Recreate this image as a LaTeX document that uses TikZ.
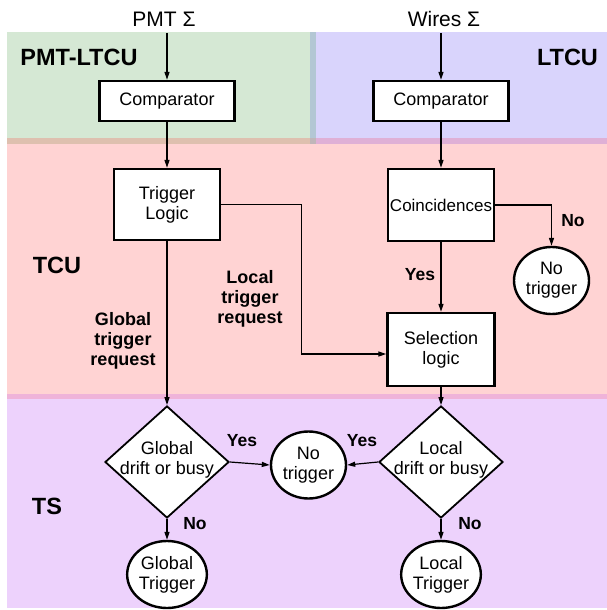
\documentclass[tikz,border=0pt]{standalone}
\usepackage{fontspec}
\setmainfont{Liberation Sans}
\usetikzlibrary{shapes.geometric,arrows.meta}
\definecolor{cgreen}{RGB}{213,232,212}
\definecolor{cblue}{RGB}{217,212,252}
\definecolor{cpink}{RGB}{255,211,211}
\definecolor{cpurple}{RGB}{237,210,252}
\definecolor{cdiv}{RGB}{179,199,212}
\definecolor{cgp}{RGB}{222,192,175}
\definecolor{cbp}{RGB}{223,176,214}
\definecolor{cpp}{RGB}{239,179,217}
\definecolor{ccorner}{RGB}{192,182,185}
\tikzset{
  procbox/.style={draw, line width=2.4pt, fill=white, inner sep=0pt, align=center, font=\fontsize{18}{20}\selectfont},
  termnode/.style={ellipse, draw, line width=2.4pt, fill=white, inner sep=0pt, align=center, minimum width=75pt, minimum height=67pt, font=\fontsize{18}{20}\selectfont},
  decnode/.style={diamond, draw, line width=1.8pt, fill=white, inner sep=0pt, minimum width=124pt, minimum height=112pt},
  dectext/.style={align=center, inner sep=0pt, font=\fontsize{18}{20}\selectfont},
  conn/.style={line width=1.2pt, -{Triangle[length=8pt,width=5pt]}},
  zonelbl/.style={font=\fontsize{23.5}{26}\selectfont\bfseries, inner sep=0pt},
  edgelbl/.style={font=\fontsize{18}{20}\selectfont\bfseries, align=center, inner sep=0pt},
  answer/.style={font=\fontsize{17.5}{20}\selectfont\bfseries, inner sep=0pt},
  inlbl/.style={font=\fontsize{21}{24}\selectfont, inner sep=0pt}
}
\begin{document}
\begin{tikzpicture}[x=1pt,y=-1pt]
\useasboundingbox (0,0) rectangle (607,610);
\fill[white] (0,0) rectangle (607,610);
% zones
\fill[cgreen] (7,32) rectangle (310,138);
\fill[cdiv] (310,32) rectangle (316,138);
\fill[cblue] (316,32) rectangle (607,138);
\fill[cgp] (7,138) rectangle (310,144);
\fill[ccorner] (310,138) rectangle (316,144);
\fill[cbp] (316,138) rectangle (607,144);
\fill[cpink] (7,144) rectangle (607,394);
\fill[cpp] (7,394) rectangle (607,399);
\fill[cpurple] (7,399) rectangle (607,608);
% zone labels
\node[zonelbl] (zpmt) at (79,57.5) {PMT-LTCU};
\node[zonelbl] (zltcu) at (567.5,57.5) {LTCU};
\node[zonelbl] (ztcu) at (57,265) {TCU};
\node[zonelbl] (zts) at (47,506) {TS};
% inputs
\node[inlbl] (pmt) at (164,19) {PMT Σ};
\node[inlbl] (wires) at (444,19) {Wires Σ};
\coordinate (pmtin) at (167,33);
\coordinate (wiresin) at (441,33);
% nodes
\node[procbox, minimum width=135pt, minimum height=40pt] (cmpL) at (167,101) {Comparator};
\node[procbox, minimum width=135pt, minimum height=40pt] (cmpR) at (441,101) {Comparator};
\node[procbox, minimum width=106pt, minimum height=71pt] (trig) at (167,204.5) {Trigger\\Logic};
\node[procbox, minimum width=106pt, minimum height=72pt, font=\fontsize{17}{20}\selectfont] (coin) at (441,205) {Coincidences};
\node[procbox, minimum width=107pt, minimum height=73pt] (sel) at (441,349.5) {Selection\\logic};
\node[termnode] (nt1) at (551.5,280.5) {No\\trigger};
\node[decnode] (gd) at (167,462) {};
\node[dectext] (gdt) at (167,460) {Global\\drift or busy};
\node[decnode] (ld) at (441,462) {};
\node[dectext] (ldt) at (441,460) {Local\\drift or busy};
\node[termnode] (nt2) at (308.5,465) {No\\trigger};
\node[termnode] (gt) at (167,574.5) {Global\\Trigger};
\node[termnode] (lt) at (441,574.5) {Local\\Trigger};
% connectors
\draw[conn] (pmtin) -- (cmpL.north);
\draw[conn] (wiresin) -- (cmpR.north);
\draw[conn] (cmpL.south) -- (trig.north);
\draw[conn] (cmpR.south) -- (coin.north);
\draw[conn] (trig.south) -- (gd.north);
\draw[conn] (trig.east) -- ++(80,0) |- ([yshift=-4.5pt]sel.west);
\draw[conn] (coin.south) -- (sel.north);
\draw[conn] (coin.east) -| (nt1.north);
\draw[conn] (sel.south) -- (ld.north);
\draw[conn] (gd.east) -- (nt2.west);
\draw[conn] (ld.west) -- (nt2.east);
\draw[conn] (gd.south) -- (gt.north);
\draw[conn] (ld.south) -- (lt.north);
% edge labels
\node[edgelbl] (glbl) at (123,341) {Global\\trigger\\request};
\node[edgelbl] (llbl) at (250,299) {Local\\trigger\\request};
\node[answer] (yes1) at (420,275) {Yes};
\node[answer] (no1) at (573,221) {No};
\node[answer] (yes2) at (242,441) {Yes};
\node[answer] (yes3) at (362,441) {Yes};
\node[answer] (no2) at (195,524) {No};
\node[answer] (no3) at (470,524) {No};
\end{tikzpicture}
\end{document}
